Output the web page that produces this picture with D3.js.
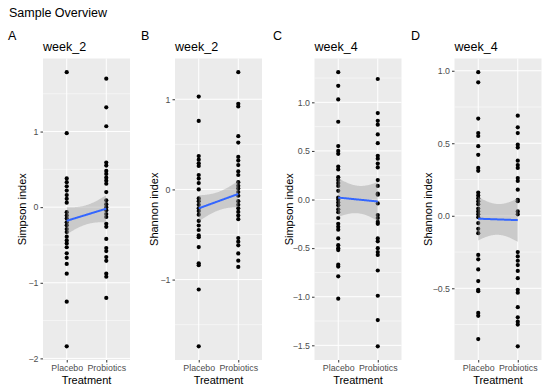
<!DOCTYPE html>
<html>
<head>
<meta charset="utf-8">
<script src="https://cdn.jsdelivr.net/npm/d3@7"></script>
<style>
  body { margin: 0; background: #fff; }
  svg { font-family: "Liberation Sans", Arial, sans-serif; }
  .tick-label { fill: #4d4d4d; font-size: 8.8px; }
  .axis-title { fill: #000; font-size: 11px; }
</style>
</head>
<body>
<div id="chart"></div>
<script>
// Data
const treatments = ["Placebo", "Probiotics"];
const panelLetters = ["A", "B", "C", "D"];
const panelTitles = ["week_2", "week_2", "week_4", "week_4"];
const yTitles = ["Simpson index", "Shannon index", "Simpson index", "Shannon index"];

const aPlacebo = [1.785, 0.978, 0.38, 0.33, 0.276, 0.22, 0.16, 0.11, 0.06, -0.066, -0.11, -0.15, -0.2,
  -0.24, -0.29, -0.33, -0.39, -0.44, -0.48, -0.53, -0.61, -0.67, -0.75, -0.88, -1.25, -1.84];
const aProbiotics = [1.70, 1.32, 1.07, 0.59, 0.55, 0.48, 0.44, 0.39, 0.35, 0.31, 0.20, 0.09, 0.04, 0,
  -0.04, -0.09, -0.13, -0.22, -0.26, -0.42, -0.54, -0.58, -0.66, -0.71, -0.88, -0.92, -1.2];
const bPlacebo = [1.03, 0.76, 0.37, 0.33, 0.29, 0.26, 0.16, 0.12, 0.07, 0.0, -0.1, -0.13, -0.17, -0.21,
  -0.24, -0.28, -0.35, -0.40, -0.45, -0.51, -0.53, -0.64, -0.82, -0.84, -1.11, -1.74];
const bProbiotics = [1.30, 0.95, 0.92, 0.59, 0.52, 0.36, 0.32, 0.27, 0.2, 0.16, 0.08, 0.04, 0.01, -0.03,
  -0.07, -0.13, -0.17, -0.21, -0.25, -0.29, -0.33, -0.54, -0.58, -0.62, -0.71, -0.79, -0.86];
const cPlacebo = [1.31, 1.17, 1.03, 0.80, 0.55, 0.50, 0.47, 0.34, 0.31, 0.23, 0.20, 0.17, 0.14, 0.09,
  0.02, 0, -0.03, -0.06, -0.1, -0.13, -0.19, -0.25, -0.28, -0.31, -0.4, -0.47, -0.5, -0.52, -0.67,
  -0.69, -0.79, -1.02];
const cProbiotics = [1.24, 0.89, 0.81, 0.77, 0.67, 0.58, 0.45, 0.42, 0.37, 0.33, 0.20, 0.14, 0.06, 0.05,
  -0.04, -0.16, -0.19, -0.23, -0.25, -0.4, -0.43, -0.5, -0.54, -0.57, -0.73, -0.99, -1.24, -1.51];
const dPlacebo = [0.99, 0.92, 0.67, 0.57, 0.55, 0.48, 0.42, 0.33, 0.31, 0.16, 0.14, 0.12, 0.10, 0.08,
  0.05, 0.03, 0.01, -0.01, -0.05, -0.09, -0.12, -0.27, -0.30, -0.37, -0.45, -0.51, -0.52, -0.67,
  -0.69, -0.85];
const dProbiotics = [0.69, 0.61, 0.57, 0.49, 0.47, 0.38, 0.35, 0.33, 0.26, 0.24, 0.18, 0.11, 0.10, 0.03,
  0.01, -0.25, -0.28, -0.31, -0.34, -0.38, -0.43, -0.51, -0.53, -0.63, -0.70, -0.73, -0.75, -0.90];

// linear smoother, fitted value at Placebo / Probiotics and half width of the band at the ends
const fitPlacebo = [-0.18, -0.21, 0.02, -0.02];
const fitProbiotics = [-0.02, -0.05, -0.02, -0.03];
const bandHalf = [0.18, 0.145, 0.2, 0.15];

const yTicks = [[-2, -1, 0, 1], [-1, 0, 1], [-1.5, -1, -0.5, 0, 0.5, 1], [-0.5, 0, 0.5, 1]];
const tickFormats = [d3.format("d"), d3.format("d"), d3.format(".1f"), d3.format(".1f")];

const placeboSets = [aPlacebo, bPlacebo, cPlacebo, dPlacebo];
const probioticSets = [aProbiotics, bProbiotics, cProbiotics, dProbiotics];

// layout
const W = 550, H = 391;
const panelLeft = [43, 175, 314.5, 454.5];
const letterX = [8, 141, 273, 411];
const yTitleX = [22, 154, 289, 428];
const panelW = 87, panelTop = 58.5, panelBottom = 360;

const svg = d3.select("#chart").append("svg")
  .attr("width", W).attr("height", H);

svg.append("text")
  .attr("x", 9).attr("y", 17)
  .attr("font-size", 12.5)
  .text("Sample Overview");

panelLetters.forEach((letter, i) => {
  const placebo = placeboSets[i], probiotics = probioticSets[i];
  const all = placebo.concat(probiotics);
  const lo = d3.min(all), hi = d3.max(all);
  const pad = (hi - lo) * 0.05;

  const x = d3.scalePoint().domain(treatments)
    .range([panelLeft[i], panelLeft[i] + panelW]).padding(0.6);
  const y = d3.scaleLinear().domain([lo - pad, hi + pad])
    .range([panelBottom, panelTop]);

  const g = svg.append("g");

  // panel letter and title
  svg.append("text").attr("x", letterX[i]).attr("y", 40)
    .attr("font-size", 12.5).text(letter);
  svg.append("text").attr("x", panelLeft[i]).attr("y", 51)
    .attr("font-size", 12.5).text(panelTitles[i]);

  // background
  g.append("rect")
    .attr("x", panelLeft[i]).attr("y", panelTop)
    .attr("width", panelW).attr("height", panelBottom - panelTop)
    .attr("fill", "#ebebeb");

  // minor grid lines halfway between major ticks
  const ticks = yTicks[i];
  const step = ticks[1] - ticks[0];
  const minor = [ticks[0] - step / 2].concat(ticks.map(t => t + step / 2))
    .filter(v => v > y.domain()[0] && v < y.domain()[1]);
  g.selectAll(".minor").data(minor).join("line")
    .attr("x1", panelLeft[i]).attr("x2", panelLeft[i] + panelW)
    .attr("y1", d => y(d)).attr("y2", d => y(d))
    .attr("stroke", "#fff").attr("stroke-width", 0.5);
  g.selectAll(".major").data(ticks).join("line")
    .attr("x1", panelLeft[i]).attr("x2", panelLeft[i] + panelW)
    .attr("y1", d => y(d)).attr("y2", d => y(d))
    .attr("stroke", "#fff").attr("stroke-width", 1);
  g.selectAll(".vmajor").data(treatments).join("line")
    .attr("x1", d => x(d)).attr("x2", d => x(d))
    .attr("y1", panelTop).attr("y2", panelBottom)
    .attr("stroke", "#fff").attr("stroke-width", 1);

  // points
  const pts = placebo.map(v => ({ t: "Placebo", v }))
    .concat(probiotics.map(v => ({ t: "Probiotics", v })));
  g.selectAll(".dot").data(pts).join("circle")
    .attr("cx", d => x(d.t)).attr("cy", d => y(d.v))
    .attr("r", 2.1).attr("fill", "#000");

  // smoother band and line
  const xs = d3.range(0, 81).map(k => k / 80);
  const fit = u => fitPlacebo[i] + (fitProbiotics[i] - fitPlacebo[i]) * u;
  const half = u => bandHalf[i] * Math.sqrt((1 + 4 * (u - 0.5) * (u - 0.5)) / 2);
  const xu = d3.scaleLinear().domain([0, 1]).range([x("Placebo"), x("Probiotics")]);
  g.append("path").datum(xs)
    .attr("d", d3.area().x(u => xu(u)).y0(u => y(fit(u) - half(u))).y1(u => y(fit(u) + half(u))))
    .attr("fill", "#999").attr("fill-opacity", 0.4);
  g.append("path").datum(xs)
    .attr("d", d3.line().x(u => xu(u)).y(u => y(fit(u))))
    .attr("fill", "none").attr("stroke", "#3366ff").attr("stroke-width", 2);

  // y axis
  const yAxis = g.append("g")
    .attr("transform", `translate(${panelLeft[i]},0)`)
    .call(d3.axisLeft(y).tickValues(ticks).tickFormat(tickFormats[i]).tickSize(2.5).tickPadding(2));
  yAxis.select(".domain").remove();
  yAxis.selectAll("line").attr("stroke", "#333");
  yAxis.selectAll("text").attr("class", "tick-label").attr("font-size", null).attr("font-family", null);

  // x axis
  const xAxis = g.append("g")
    .attr("transform", `translate(0,${panelBottom})`)
    .call(d3.axisBottom(x).tickSize(2.5).tickPadding(2));
  xAxis.select(".domain").remove();
  xAxis.selectAll("line").attr("stroke", "#333");
  xAxis.selectAll("text").attr("class", "tick-label").attr("font-size", null).attr("font-family", null);

  // axis titles
  svg.append("text").attr("class", "axis-title")
    .attr("x", panelLeft[i] + panelW / 2).attr("y", 384)
    .attr("text-anchor", "middle").text("Treatment");
  svg.append("text").attr("class", "axis-title")
    .attr("transform", `translate(${yTitleX[i] + 4},${(panelTop + panelBottom) / 2}) rotate(-90)`)
    .attr("text-anchor", "middle").text(yTitles[i]);
});
</script>
</body>
</html>
